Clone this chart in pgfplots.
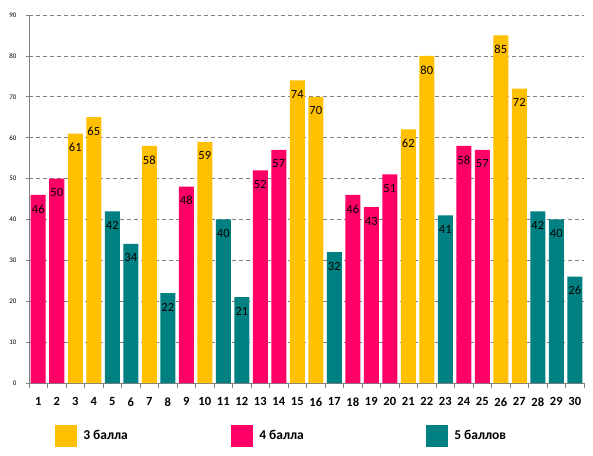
\documentclass[border=0pt]{standalone}
\usepackage{fontspec}
\setmainfont{Carlito}
\usepackage{pgfplots}
\pgfplotsset{compat=1.18}
\definecolor{cy}{HTML}{FFC000}
\definecolor{cp}{HTML}{FF0066}
\definecolor{ct}{HTML}{008080}
\begin{document}
\begin{tikzpicture}
\path[use as bounding box] (-29pt,-72pt) rectangle (564pt,383pt);
\begin{axis}[
  scale only axis, width=555pt, height=368pt,
  at={(0,0)}, anchor=south west,
  ymin=0, ymax=90, xmin=0.5, xmax=30.5,
  ytick={0,10,...,90},
  xtick={1,...,30},
  minor xtick={0.5,1.5,...,30.5},
  axis x line*=bottom, axis y line*=left,
  axis line style={draw=gray, line width=0.9pt},
  ymajorgrids,
  grid style={gray, dash pattern=on 4pt off 3pt, line width=0.7pt},
  major x tick style={draw=none},
  minor x tick style={draw=gray, line width=0.7pt},
  ytick style={draw=gray, line width=0.7pt},
  tick align=outside,
  major tick length=3pt,
  minor tick length=5pt,
  /pgf/number format/assume math mode=true,
  xticklabel style={font=\fontsize{12.5}{13}\selectfont\bfseries, yshift=-8pt},
  yticklabel style={font=\fontsize{7}{8}\selectfont, xshift=-6pt},
  ybar, bar width=15pt,
  nodes near coords,
  nodes near coords align={anchor=center},
  every node near coord/.append style={font=\fontsize{12.5}{12}\selectfont, black, yshift=-14pt, inner sep=0pt},
  legend columns=3,
  legend style={at={(axis description cs:0.047,-0.144)}, anchor=west, draw=none,
    inner sep=0pt, font=\fontsize{13.5}{14}\selectfont\bfseries,
    /tikz/every even column/.append style={column sep=0pt},
    nodes={inner sep=0pt}},
  legend cell align=left,
  legend image code/.code={\fill[#1] (0pt,-11pt) rectangle (22pt,11pt);},
]
\addplot[fill=cy, draw=none, bar shift=0pt] coordinates {
  (3,61) (4,65) (7,58) (10,59) (15,74) (16,70) (21,62) (22,80) (26,85) (27,72)};
\addplot[fill=cp, draw=none, bar shift=0pt] coordinates {
  (1,46) (2,50) (9,48) (13,52) (14,57) (18,46) (19,43) (20,51) (24,58) (25,57)};
\addplot[fill=ct, draw=none, bar shift=0pt] coordinates {
  (5,42) (6,34) (8,22) (11,40) (12,21) (17,32) (23,41) (28,42) (29,40) (30,26)};
\legend{\hspace{6pt}\makebox[148pt][l]{3 балла}, \hspace{6pt}\makebox[167pt][l]{4 балла}, \hspace{6pt}5 баллов}
\end{axis}
\end{tikzpicture}
\end{document}
